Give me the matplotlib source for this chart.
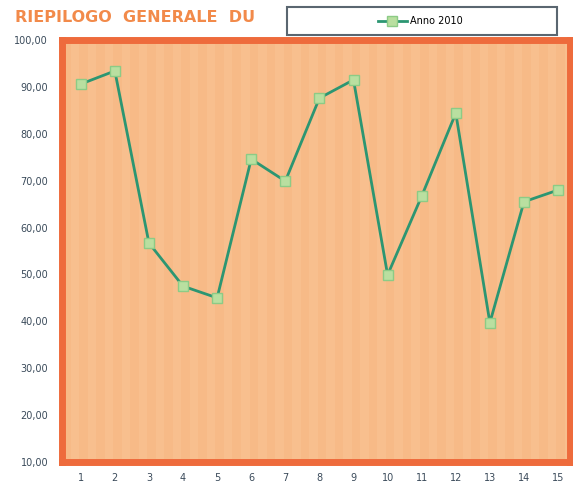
import numpy as np
import matplotlib.pyplot as plt
from matplotlib.patches import Rectangle

# Values per group (1..15)
groups = list(range(1, 16))
anno_2010 = [90.6, 93.4, 56.7, 47.5, 45.0, 74.6, 69.9, 87.6, 91.5,
             49.9, 66.7, 84.4, 39.7, 65.5, 68.0]
y_ticks = [10, 20, 30, 40, 50, 60, 70, 80, 90, 100]

fig = plt.figure(figsize=(5.73, 4.93), dpi=100)
ax = fig.add_axes([62 / 573, 31 / 493, 508 / 573, 422 / 493])

# orange background with faint vertical stripes
ax.set_facecolor('#F8BF8E')
for s in np.arange(0.45, 15.4, 0.5):
    ax.axvspan(s, s + 0.25, color='#F6B47F', alpha=0.45, lw=0, zorder=0)

ax.plot(groups, anno_2010, color='#2C9672', lw=2.0, marker='s', ms=7,
        markerfacecolor='#B9DFA0', markeredgecolor='#8CCB86', mew=1,
        label='Anno 2010', zorder=3)

ax.set_xlim(0.45, 15.35)
ax.set_ylim(10, 100)
ax.set_xticks(groups)
ax.set_yticks(y_ticks)
ax.set_yticklabels([f'{v:.2f}'.replace('.', ',') for v in y_ticks])
ax.tick_params(length=0, labelsize=7, colors='#3A4A5A', pad=10)
ax.tick_params(axis='x', pad=8)
for sp in ax.spines.values():
    sp.set_color('#EE6B3C')
    sp.set_linewidth(5)

fig.text(15 / 573, 1 - 18 / 493, 'RIEPILOGO  GENERALE  DU', color='#F28A4A',
         fontsize=11.5, fontweight='bold', va='center')

# legend box across the top right
fig.patches.append(Rectangle((287 / 573, 1 - 35 / 493), 270 / 573, 28 / 493,
                             transform=fig.transFigure, facecolor='white',
                             edgecolor='#5A6670', lw=1.5))
fig.legend(loc='center', bbox_to_anchor=(420 / 573, 1 - 21 / 493),
           frameon=False, fontsize=7, handlelength=3, handletextpad=0.3)

fig.savefig('out.png', dpi=100)
